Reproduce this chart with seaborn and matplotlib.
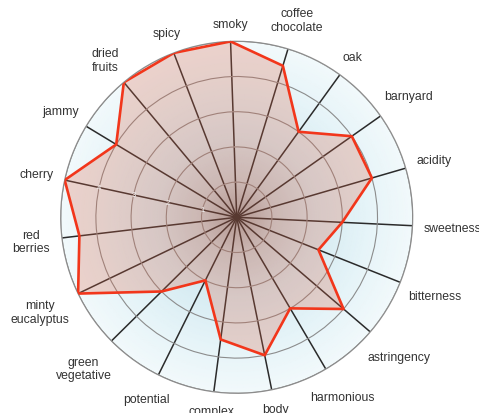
import numpy as np
import pandas as pd
import matplotlib
matplotlib.use("Agg")
import matplotlib.pyplot as plt
from matplotlib.colors import LinearSegmentedColormap
import seaborn as sns

# ── Data ──────────────────────────────────────────────────────────────
categories = ["smoky", "coffee\nchocolate", "oak", "barnyard", "acidity",
              "sweetness", "bitterness", "astringency", "harmonious", "body",
              "complex", "potential", "green\nvegetative", "minty\neucalyptus",
              "red\nberries", "cherry", "jammy", "dried\nfruits", "spicy"]
scores = [5, 4.5, 3, 4, 4, 3, 2.5, 4, 3, 4, 3.5, 2, 3, 5, 4.5, 5, 4, 5, 5]
ring_ticks = [1, 2, 3, 4, 5]
ring_labels = ["1", "2", "3", "4"]
label_axis = "cherry"

sns.set_theme(style="white")
plt.rcParams["font.family"] = ["Liberation Sans", "DejaVu Sans"]

n = len(categories)
theta = np.linspace(0, 2 * np.pi, n, endpoint=False)
df = pd.DataFrame({"theta": np.append(theta, theta[0]),
                   "score": scores + scores[:1]})

fig = plt.figure(figsize=(4.79, 4.14), dpi=100)
ax = fig.add_axes([0.1267, 0.0476, 0.7349, 0.8502], projection="polar")
ax.set_theta_offset(np.deg2rad(92))
ax.set_theta_direction(-1)
rmax = ring_ticks[-1]

# ── radial gradient background ────────────────────────────────────────
bg_cmap = LinearSegmentedColormap.from_list(
    "bg", [(0, "#a6aaac"), (0.2, "#c6d4d9"), (0.45, "#d6ebf2"),
           (0.75, "#e6f4f8"), (1, "#f2f9fb")])
tt, rr = np.meshgrid(np.linspace(0, 2 * np.pi, 181), np.linspace(0, rmax, 80))
ax.pcolormesh(tt, rr, rr, cmap=bg_cmap, shading="gouraud",
              vmin=0, vmax=rmax, zorder=0.1, rasterized=True)

# ── polygon ───────────────────────────────────────────────────────────
ax.fill(theta, scores, color="#dc6446", alpha=0.26, linewidth=0, zorder=1)
sns.lineplot(data=df, x="theta", y="score", sort=False, estimator=None,
             color="#f2361b", linewidth=1.9, ax=ax, zorder=3)

ax.set_ylim(0, rmax)
ax.set_xticks(theta)
ax.set_xticklabels([])
ax.set_yticks(ring_ticks)
ax.set_yticklabels([])
ax.set_xlabel("")
ax.set_ylabel("")
ax.tick_params(length=0)
ax.xaxis.grid(True, color="#2b2b2b", linewidth=1.1, linestyle="-")
ax.yaxis.grid(True, color="#8c8c8c", linewidth=0.8, linestyle="-")
ax.spines["polar"].set_color("#8c8c8c")
ax.spines["polar"].set_linewidth(0.9)

# radial value labels along the cherry spoke
ang_lab = theta[categories.index(label_axis)]
for r, txt in zip(ring_ticks, ring_labels):
    ax.text(ang_lab, r, txt, ha="center", va="center", fontsize=5.5,
            color="#f2f2f2", zorder=4)

# ── category labels, pushed out so the box edge sits just past the rim ──
anns = []
for ang, lab in zip(theta, categories):
    a = ax.annotate(lab, xy=(ang, rmax), xytext=(0, 0), textcoords="offset points",
                    ha="center", va="center", fontsize=8.8, color="#333333",
                    annotation_clip=False, linespacing=1.15)
    anns.append((ang, a))

fig.canvas.draw()
renderer = fig.canvas.get_renderer()
for ang, a in anns:
    bb = a.get_window_extent(renderer)
    disp = np.deg2rad(92) - ang
    c, s = np.cos(disp), np.sin(disp)
    off = 10.6 + bb.width / 2 * abs(c) + bb.height / 2 * abs(s)
    off = off * 72 / fig.dpi
    a.xyann = (off * c, off * s)

fig.savefig("out.png", dpi=100)
